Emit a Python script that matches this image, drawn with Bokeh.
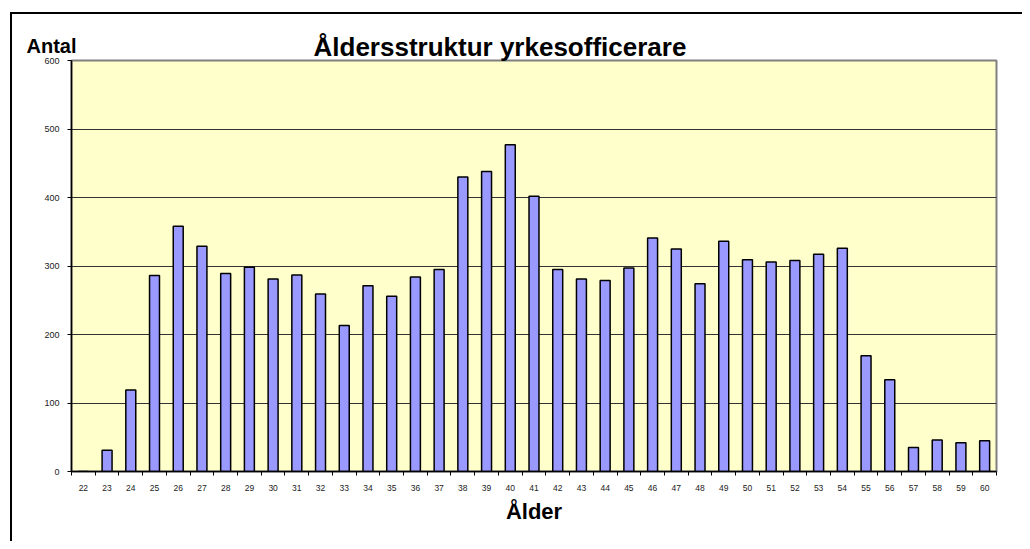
from bokeh.plotting import figure
from bokeh.models import Range1d, FixedTicker, Label
from bokeh.embed import file_html
from bokeh.resources import INLINE

ages = list(range(22, 61))
counts = [0, 31, 119, 286, 358, 329, 289, 298, 281, 287, 259, 213, 271, 256, 284, 295,
          430, 438, 477, 402, 295, 281, 279, 297, 341, 325, 274, 336, 309, 306, 308,
          317, 326, 169, 134, 35, 46, 42, 45]
y_ticks = [0, 100, 200, 300, 400, 500, 600]
title_text = "Åldersstruktur yrkesofficerare"
x_title = "Ålder"
y_title = "Antal"

W, H = 1033, 529
FL, FT, FR, FB = 82, 48, 26, 70
FONT = "Liberation Sans"

p = figure(width=W, height=H, output_backend="svg", toolbar_location=None,
           x_range=Range1d(21.5, 60.5), y_range=Range1d(0, 600),
           min_border_left=FL, min_border_top=FT, min_border_right=FR, min_border_bottom=FB)
# the canvas is shifted left so the plot frame lands where the reference has it;
# the chart-area border (left and top lines) is painted as a CSS background
p.styles = {"margin-left": "-11px", "margin-top": "12px",
            "background-image": "linear-gradient(#000, #000), linear-gradient(#000, #000)",
            "background-size": "2px 100%, 100% 2px",
            "background-position": "21px 0px, 21px 0px",
            "background-repeat": "no-repeat"}

p.background_fill_color = "#FFFFCC"
p.border_fill_color = None
p.outline_line_color = "#808080"
p.outline_line_width = 2

p.title.text = title_text
p.title.align = "left"
p.title.offset = 242
p.title.standoff = -2
p.title.text_font = FONT
p.title.text_font_style = "bold"
p.title.text_font_size = "26px"
p.title.text_color = "black"

p.vbar(x=ages, top=counts, width=0.42, fill_color="#9999FF",
       line_color="black", line_width=1.5)

p.xgrid.grid_line_color = None
p.ygrid.grid_line_color = "#333333"
p.ygrid.grid_line_width = 1

xax = p.xaxis[0]
xax.ticker = FixedTicker(ticks=ages, minor_ticks=[a + 0.5 for a in ages] + [21.5])
xax.major_tick_line_color = None
xax.major_tick_in = 0
xax.major_tick_out = 0
xax.minor_tick_line_color = "black"
xax.minor_tick_in = 0
xax.minor_tick_out = 4
xax.major_label_text_font = FONT
xax.major_label_text_font_size = "8.5px"
xax.major_label_text_color = "#222222"
xax.major_label_standoff = 9
xax.axis_line_color = "black"
xax.axis_line_width = 1.5
xax.axis_label = x_title
xax.axis_label_text_font = FONT
xax.axis_label_text_font_style = "bold"
xax.axis_label_text_font_size = "22px"
xax.axis_label_text_color = "black"
xax.axis_label_standoff = 5

yax = p.yaxis[0]
yax.ticker = FixedTicker(ticks=y_ticks)
yax.minor_tick_line_color = None
yax.major_tick_in = 0
yax.major_tick_out = 4
yax.major_tick_line_color = "black"
yax.major_label_text_font = FONT
yax.major_label_text_font_size = "9px"
yax.major_label_text_color = "#222222"
yax.major_label_standoff = 8
yax.axis_line_color = "black"
yax.axis_line_width = 1.5

# "Antal" lives in its own left side panel (outside the y axis), so it is not clipped
frame_h = H - FT - FB
p.add_layout(Label(x=35, y=frame_h + 15, x_units="screen", y_units="screen",
                   text=y_title, text_align="left", text_baseline="alphabetic",
                   text_font=FONT, text_font_style="bold", text_font_size="20px",
                   text_color="black"), "left")

open("out.html", "w").write(file_html(p, INLINE))
